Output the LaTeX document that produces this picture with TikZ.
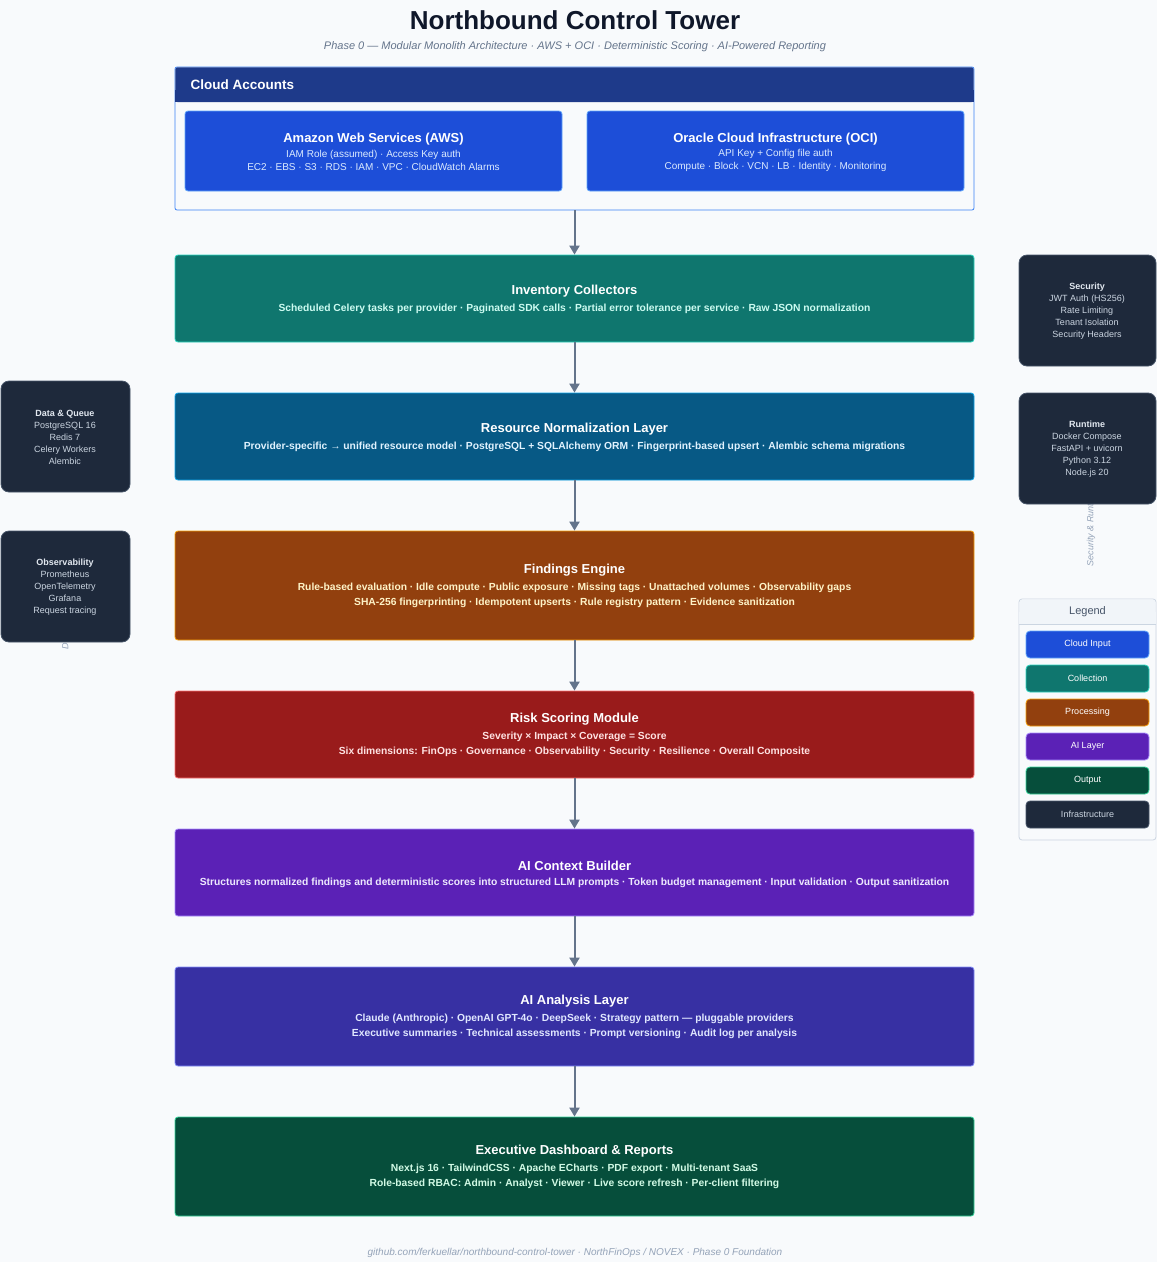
\documentclass[tikz,border=0pt]{standalone}
\usepackage{fontspec}
\setmainfont{Liberation Sans}
\usetikzlibrary{arrows.meta}
\definecolor{bg}{HTML}{F8FAFC}
\definecolor{ttl}{HTML}{0F172A}
\definecolor{sub}{HTML}{64748B}
\definecolor{arr}{HTML}{64748B}
\definecolor{hdr}{HTML}{1E3A8A}
\definecolor{hdrb}{HTML}{3B82F6}
\definecolor{cldf}{HTML}{1D4ED8}
\definecolor{cldb}{HTML}{60A5FA}
\definecolor{cldt}{HTML}{DBEAFE}
\definecolor{invf}{HTML}{0F766E}
\definecolor{invb}{HTML}{2DD4BF}
\definecolor{invt}{HTML}{CCFBF1}
\definecolor{norf}{HTML}{075985}
\definecolor{norb}{HTML}{0EA5E9}
\definecolor{nort}{HTML}{E0F2FE}
\definecolor{finf}{HTML}{92400E}
\definecolor{finb}{HTML}{F59E0B}
\definecolor{fint}{HTML}{FEF3C7}
\definecolor{rskf}{HTML}{991B1B}
\definecolor{rskb}{HTML}{F87171}
\definecolor{rskt}{HTML}{FEE2E2}
\definecolor{ctxf}{HTML}{5B21B6}
\definecolor{ctxb}{HTML}{A78BFA}
\definecolor{ctxt}{HTML}{EDE9FE}
\definecolor{anaf}{HTML}{3730A3}
\definecolor{anab}{HTML}{818CF8}
\definecolor{anat}{HTML}{E0E7FF}
\definecolor{outf}{HTML}{064E3B}
\definecolor{outb}{HTML}{34D399}
\definecolor{outt}{HTML}{D1FAE5}
\definecolor{sidef}{HTML}{1E293B}
\definecolor{sideb}{HTML}{475569}
\definecolor{sidet}{HTML}{CBD5E1}
\definecolor{sideh}{HTML}{E2E8F0}
\definecolor{legf}{HTML}{F1F5F9}
\definecolor{legb}{HTML}{CBD5E1}
\definecolor{legt}{HTML}{475569}
\definecolor{rot}{HTML}{94A3B8}
\tikzset{
  x=1pt,y=-1pt,
  layerbox/.style={draw, line width=0.8pt, rounded corners=3pt, inner sep=0pt},
  sidebox/.style={draw=sideb, fill=sidef, line width=0.8pt, rounded corners=8pt, inner sep=0pt},
  legitem/.style={draw, line width=0.8pt, rounded corners=4pt, inner sep=0pt, minimum width=123pt, minimum height=27pt, font=\fontsize{9}{10}\selectfont, text=white},
  ltitle/.style={font=\bfseries\fontsize{13}{15}\selectfont, text=white},
  lline/.style={font=\bfseries\fontsize{10.3}{11}\selectfont},
  sidetxt/.style={align=center, font=\fontsize{9}{12}\selectfont, text=sidet},
  flow/.style={draw=arr, line width=2pt, -{Triangle[width=10pt,length=9pt]}},
}
\begin{document}
\begin{tikzpicture}
\fill[bg] (0,0) rectangle (1157,1262);
\useasboundingbox (0,0) rectangle (1157,1262);

% title
\node[font=\bfseries\fontsize{26}{30}\selectfont, text=ttl] (title) at (575,20) {Northbound Control Tower};
\node[font=\itshape\fontsize{11}{13}\selectfont, text=sub] (subtitle) at (575,47) {Phase 0 — Modular Monolith Architecture · AWS + OCI · Deterministic Scoring · AI-Powered Reporting};

% rotated side captions (mostly hidden behind side panels)
\node[rotate=90, anchor=west, font=\itshape\fontsize{9}{10}\selectfont, text=rot] (rotL) at (66,653) {Data \& Observability};
\node[rotate=90, anchor=west, font=\itshape\fontsize{9}{10}\selectfont, text=rot] (rotR) at (1091,570) {Security \& Runtime};

% cloud accounts container
\node[draw=hdrb, fill=bg, line width=0.8pt, rounded corners=2pt, minimum width=799pt, minimum height=143pt, inner sep=0pt] (cloud) at (574.5,138.5) {};
\fill[hdr, rounded corners=2pt] (175.4,67.4) rectangle (973.6,102);
\fill[hdr] (175.4,90) rectangle (973.6,102);
\node[anchor=west, font=\bfseries\fontsize{13.5}{15}\selectfont, text=white] (cloudhdr) at (187,85) {Cloud Accounts};

\node[layerbox, draw=cldb, fill=cldf, minimum width=377pt, minimum height=80pt] (aws) at (373.5,151) {};
\node[ltitle] (awst) at (373.5,139.5) {Amazon Web Services (AWS)};
\node[font=\fontsize{10}{11}\selectfont, text=cldt, align=center] (awsl) at (373.5,160.5) {IAM Role (assumed) · Access Key auth\\[1.5pt] EC2 · EBS · S3 · RDS · IAM · VPC · CloudWatch Alarms};

\node[layerbox, draw=cldb, fill=cldf, minimum width=377pt, minimum height=80pt] (oci) at (775.5,151) {};
\node[ltitle] (ocit) at (775.5,139.5) {Oracle Cloud Infrastructure (OCI)};
\node[font=\fontsize{10}{11}\selectfont, text=cldt, align=center] (ocil) at (775.5,160.5) {API Key + Config file auth\\[1.5pt] Compute · Block · VCN · LB · Identity · Monitoring};

% layers
\node[layerbox, draw=invb, fill=invf, minimum width=799pt, minimum height=87pt] (inv) at (574.5,298.5) {};
\node[ltitle] (invtt) at (574.5,291.5) {Inventory Collectors};
\node[lline, text=invt] (invl) at (574.5,308.5) {Scheduled Celery tasks per provider · Paginated SDK calls · Partial error tolerance per service · Raw JSON normalization};

\node[layerbox, draw=norb, fill=norf, minimum width=799pt, minimum height=87pt] (nor) at (574.5,436.5) {};
\node[ltitle] (nortt) at (574.5,429.5) {Resource Normalization Layer};
\node[lline, text=nort] (norl) at (574.5,446.5) {Provider-specific → unified resource model · PostgreSQL + SQLAlchemy ORM · Fingerprint-based upsert · Alembic schema migrations};

\node[layerbox, draw=finb, fill=finf, minimum width=799pt, minimum height=109pt] (fin) at (574.5,585.5) {};
\node[ltitle] (fintt) at (574.5,570.5) {Findings Engine};
\node[lline, text=fint] (finl1) at (574.5,587.5) {Rule-based evaluation · Idle compute · Public exposure · Missing tags · Unattached volumes · Observability gaps};
\node[lline, text=fint] (finl2) at (574.5,602.5) {SHA-256 fingerprinting · Idempotent upserts · Rule registry pattern · Evidence sanitization};

\node[layerbox, draw=rskb, fill=rskf, minimum width=799pt, minimum height=87pt] (rsk) at (574.5,734.5) {};
\node[ltitle] (rsktt) at (574.5,719.5) {Risk Scoring Module};
\node[lline, text=rskt] (rskl1) at (574.5,736.5) {Severity × Impact × Coverage = Score};
\node[lline, text=rskt] (rskl2) at (574.5,751.5) {Six dimensions: FinOps · Governance · Observability · Security · Resilience · Overall Composite};

\node[layerbox, draw=ctxb, fill=ctxf, minimum width=799pt, minimum height=87pt] (ctx) at (574.5,872.5) {};
\node[ltitle] (ctxtt) at (574.5,865.5) {AI Context Builder};
\node[lline, text=ctxt] (ctxl) at (574.5,882.5) {Structures normalized findings and deterministic scores into structured LLM prompts · Token budget management · Input validation · Output sanitization};

\node[layerbox, draw=anab, fill=anaf, minimum width=799pt, minimum height=99pt] (ana) at (574.5,1016.5) {};
\node[ltitle] (anatt) at (574.5,1001.5) {AI Analysis Layer};
\node[lline, text=anat] (anal1) at (574.5,1018.5) {Claude (Anthropic) · OpenAI GPT-4o · DeepSeek · Strategy pattern — pluggable providers};
\node[lline, text=anat] (anal2) at (574.5,1033.5) {Executive summaries · Technical assessments · Prompt versioning · Audit log per analysis};

\node[layerbox, draw=outb, fill=outf, minimum width=799pt, minimum height=99pt] (out) at (574.5,1166.5) {};
\node[ltitle] (outtt) at (574.5,1151.5) {Executive Dashboard \& Reports};
\node[lline, text=outt] (outl1) at (574.5,1168.5) {Next.js 16 · TailwindCSS · Apache ECharts · PDF export · Multi-tenant SaaS};
\node[lline, text=outt] (outl2) at (574.5,1183.5) {Role-based RBAC: Admin · Analyst · Viewer · Live score refresh · Per-client filtering};

% flow arrows
\draw[flow] (cloud.south) -- (inv.north);
\draw[flow] (inv.south) -- (nor.north);
\draw[flow] (nor.south) -- (fin.north);
\draw[flow] (fin.south) -- (rsk.north);
\draw[flow] (rsk.south) -- (ctx.north);
\draw[flow] (ctx.south) -- (ana.north);
\draw[flow] (ana.south) -- (out.north);

% side panels
\node[sidebox, minimum width=129pt, minimum height=111pt] (dq) at (65.5,436.5) {};
\node[sidetxt] (dqt) at (65,437.5) {\textbf{\textcolor{sideh}{Data \& Queue}}\\PostgreSQL 16\\Redis 7\\Celery Workers\\Alembic};

\node[sidebox, minimum width=129pt, minimum height=111pt] (obs) at (65.5,586.5) {};
\node[sidetxt] (obst) at (65,587.5) {\textbf{\textcolor{sideh}{Observability}}\\Prometheus\\OpenTelemetry\\Grafana\\Request tracing};

\node[sidebox, minimum width=137pt, minimum height=111pt] (sec) at (1087.5,310.5) {};
\node[sidetxt] (sect) at (1087,311.5) {\textbf{\textcolor{sideh}{Security}}\\JWT Auth (HS256)\\Rate Limiting\\Tenant Isolation\\Security Headers};

\node[sidebox, minimum width=137pt, minimum height=111pt] (run) at (1087.5,448.5) {};
\node[sidetxt] (runt) at (1087,449.5) {\textbf{\textcolor{sideh}{Runtime}}\\Docker Compose\\FastAPI + uvicorn\\Python 3.12\\Node.js 20};

% legend
\node[draw=legb, fill=bg, line width=0.8pt, rounded corners=3pt, minimum width=137pt, minimum height=241pt, inner sep=0pt] (leg) at (1087.5,719.5) {};
\fill[legf, rounded corners=3pt] (1019.4,599.4) rectangle (1155.6,624);
\fill[legf] (1019.4,612) rectangle (1155.6,624);
\draw[legb, line width=0.8pt] (1019,624) -- (1156,624);
\node[font=\fontsize{11}{13}\selectfont, text=legt] (legt) at (1087.5,612) {Legend};
\node[legitem, draw=cldb, fill=cldf] (lg1) at (1087.5,644.5) {Cloud Input};
\node[legitem, draw=invb, fill=invf] (lg2) at (1087.5,678.5) {Collection};
\node[legitem, draw=finb, fill=finf] (lg3) at (1087.5,712.5) {Processing};
\node[legitem, draw=ctxb, fill=ctxf] (lg4) at (1087.5,746.5) {AI Layer};
\node[legitem, draw=outb, fill=outf] (lg5) at (1087.5,780.5) {Output};
\node[legitem, draw=sideb, fill=sidef, text=sidet] (lg6) at (1087.5,814.5) {Infrastructure};

% footer
\node[font=\itshape\fontsize{10}{11}\selectfont, text=rot] (footer) at (575,1253) {github.com/ferkuellar/northbound-control-tower · NorthFinOps / NOVEX · Phase 0 Foundation};
\end{tikzpicture}
\end{document}
